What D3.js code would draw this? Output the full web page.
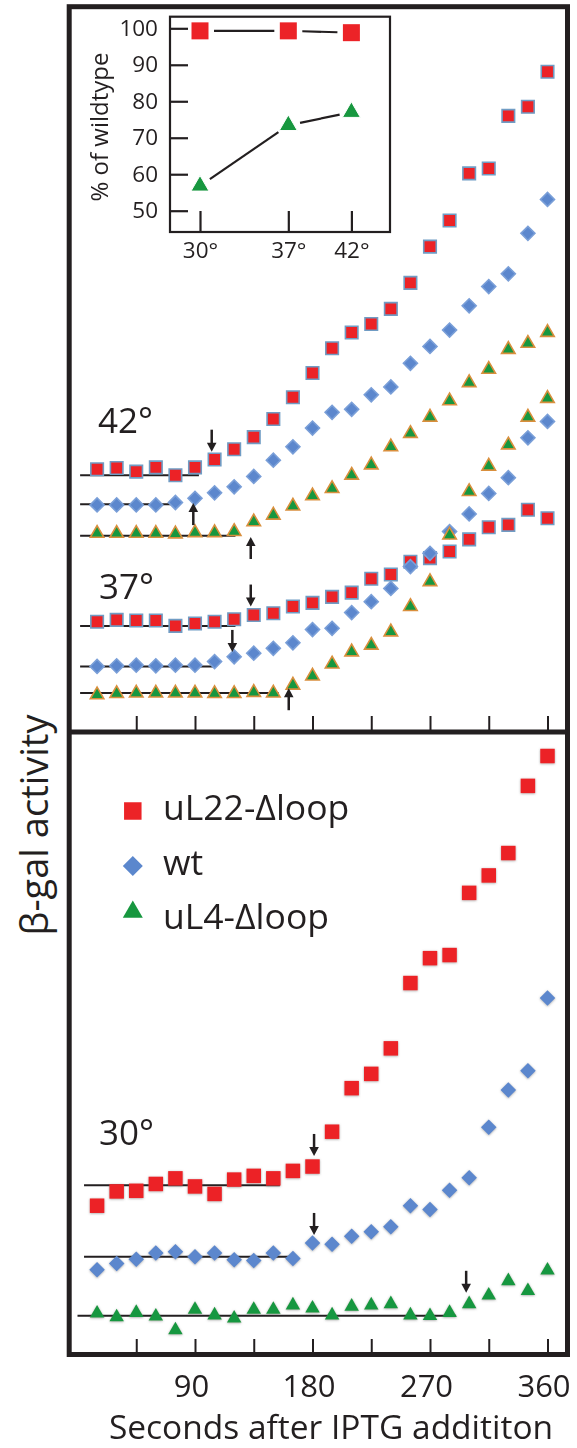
<!DOCTYPE html>
<html>
<head>
<meta charset="utf-8">
<script src="https://cdn.jsdelivr.net/npm/d3@7/dist/d3.min.js"></script>
<style>
  html, body { margin: 0; padding: 0; background: #fff; }
  svg { display: block; }
  text { font-family: "Open Sans", "Noto Sans", sans-serif; fill: #231f20; }
</style>
</head>
<body>
<svg id="chart" width="577" height="1448"></svg>
<script>
// ---------------- DATA ----------------
const times = [15, 30, 45, 60, 75, 90, 105, 120, 135, 150, 165, 180,
               195, 210, 225, 240, 255, 270, 285, 300, 315, 330, 345, 360];
const xTickValues = [45, 90, 135, 180, 225, 270, 315, 360];
const xTickLabels = [90, 180, 270, 360];

// Upper panel (arbitrary units), 42 degrees
const t42_uL22 = [43.6, 43.8, 43.2, 43.9, 42.6, 43.9, 45.2, 46.9, 48.9, 51.9, 55.5, 59.5,
                  63.6, 66.2, 67.6, 70.1, 74.4, 80.4, 84.7, 92.5, 93.3, 102.0, 103.5, 109.3];
const t42_wt   = [37.7, 37.7, 37.7, 37.7, 38.1, 38.8, 39.7, 40.7, 42.4, 45.1, 47.3, 50.4,
                  53.0, 53.5, 55.9, 57.2, 61.1, 63.9, 66.6, 70.6, 73.8, 75.9, 82.6, 88.2];
const t42_uL4  = [33.0, 33.0, 33.0, 33.0, 32.9, 33.1, 33.1, 33.3, 34.9, 36.0, 37.5, 39.2,
                  40.4, 42.6, 44.3, 47.3, 49.5, 52.2, 54.9, 57.9, 60.1, 63.4, 64.4, 66.2];
// Upper panel, 37 degrees
const t37_uL22 = [18.4, 18.7, 18.6, 18.6, 17.7, 18.1, 18.4, 18.8, 19.5, 19.8, 20.9, 21.5,
                  22.5, 23.2, 25.5, 26.2, 28.3, 28.9, 30.0, 32.0, 34.0, 34.4, 36.9, 35.5];
const t37_wt   = [11.0, 11.1, 11.2, 11.1, 11.2, 11.2, 11.8, 12.6, 13.2, 14.0, 14.9, 17.1,
                  17.3, 19.9, 21.7, 23.9, 27.5, 29.7, 33.3, 36.2, 39.6, 42.2, 48.8, 51.5];
const t37_uL4  = [6.3, 6.5, 6.6, 6.6, 6.6, 6.6, 6.5, 6.5, 6.7, 6.6, 7.9, 9.4,
                  11.4, 13.4, 14.5, 16.7, 20.9, 25.0, 32.7, 39.9, 44.1, 47.6, 52.2, 55.3];
// Lower panel, 30 degrees
const t30_uL22 = [24.0, 26.3, 26.4, 27.5, 28.4, 27.1, 25.9, 28.2, 28.8, 28.4, 29.6, 30.3,
                  35.9, 42.9, 45.2, 49.3, 59.8, 63.8, 64.3, 74.3, 77.1, 80.7, 91.5, 96.3];
const t30_wt   = [13.7, 14.7, 15.4, 16.4, 16.6, 15.8, 16.4, 15.3, 15.2, 16.4, 15.5, 18.0,
                  17.8, 19.1, 19.8, 20.6, 24.0, 23.4, 26.5, 28.5, 36.6, 42.6, 45.7, 57.4];
const t30_uL4  = [6.7, 6.1, 6.8, 6.2, 4.0, 7.3, 6.4, 5.9, 7.3, 7.3, 8.0, 7.5,
                  6.4, 7.8, 8.0, 8.2, 6.4, 6.3, 6.8, 8.2, 9.6, 11.9, 10.3, 13.6];

// Baseline fits: [series, start time, end time, level]
const upperBaselines = [["uL22", 2, 93, 42.6], ["wt", 2, 78, 37.8], ["uL4", 2, 121, 32.6],
                        ["uL22", 2, 121, 17.7], ["wt", 2, 105, 11.0], ["uL4", 2, 154, 6.6]];
const lowerBaselines = [["uL22", 5, 155, 27.3], ["wt", 5, 168, 15.8], ["uL4", 0, 290, 6.3]];
// Arrows: [time, tip level, direction]
const upperArrows = [[102.8, 46.5, "down"], [88.7, 38.0, "up"], [132.7, 32.4, "up"],
                     [132.7, 20.9, "down"], [118.6, 13.4, "down"], [161.8, 7.4, "up"]];
const lowerArrows = [[181.2, 32.0, "down"], [181.2, 19.3, "down"], [297.7, 10.0, "down"]];
// Temperature labels: [text, time, level]
const upperTempLabels = [["42°", 15.7, 49.6], ["37°", 16.5, 22.1]];
const lowerTempLabels = [["30°", 16.5, 33.8]];

// Inset
const insetTemps = [30, 37, 42];
const insetUL22 = [99.3, 99.3, 98.8];
const insetUL4  = [56.8, 73.4, 77.0];
const insetYTicks = [50, 60, 70, 80, 90, 100];

const seriesNames = ["uL22-\u0394loop", "wt", "uL4-\u0394loop"];

// ---------------- STYLE ----------------
const INK = "#231f20";
const RED = "#ec2327", BLUE = "#5b87cd", GREEN = "#17973f";

const svg = d3.select("#chart");
const defs = svg.append("defs");
const f1 = defs.append("filter").attr("id", "soft").attr("x", "-50%").attr("y", "-50%").attr("width", "200%").attr("height", "200%");
f1.append("feGaussianBlur").attr("stdDeviation", 0.7);
const f2 = defs.append("filter").attr("id", "shadow").attr("x", "-50%").attr("y", "-50%").attr("width", "200%").attr("height", "200%");
f2.append("feDropShadow").attr("dx", 0).attr("dy", 0.6).attr("stdDeviation", 1.3)
  .attr("flood-color", "#555").attr("flood-opacity", 0.55);

// ---------------- SCALES ----------------
const x = d3.scaleLinear().domain([0, 360]).range([77.5, 547.5]);
const yUp = d3.scaleLinear().domain([0, 120]).range([733, 7]);
const yLo = d3.scaleLinear().domain([0, 100]).range([1355, 733]);

const sym = {
  uL22: s => d3.symbol(d3.symbolSquare, s * s)(),
  wt:   s => d3.symbol(d3.symbolSquare, s * s / 2)(),
  uL4:  s => d3.symbol(d3.symbolTriangle, Math.sqrt(3) / 4 * s * s)()
};
const rot = { uL22: 0, wt: 45, uL4: 0 };
const col = { uL22: RED, wt: BLUE, uL4: GREEN };

function drawSeries(g, vals, key, yScale, size, upper) {
  const pts = times.map((t, i) => ({ t, v: vals[i] }));
  const outline = { uL22: "#6f9cc4", wt: "#7a9fd8", uL4: "#d98f3c" };
  g.append("g")
    .attr("filter", upper ? "url(#soft)" : "url(#shadow)")
    .selectAll("path").data(pts).join("path")
    .attr("d", sym[key](size))
    .attr("transform", d => `translate(${x(d.t)},${yScale(d.v)}) rotate(${rot[key]})`)
    .attr("fill", col[key])
    .attr("stroke", upper ? outline[key] : "none")
    .attr("stroke-width", upper ? 1.6 : 0);
}

function drawBaselines(g, data, yScale) {
  g.selectAll("line.base").data(data).join("line").attr("class", "base")
    .attr("x1", d => x(d[1])).attr("x2", d => x(d[2]))
    .attr("y1", d => yScale(d[3])).attr("y2", d => yScale(d[3]))
    .attr("stroke", INK).attr("stroke-width", 2);
}

function drawArrows(g, data, yScale) {
  const L = 22, hh = 9, hw = 4.8;
  data.forEach(([t, tip, dir]) => {
    const cx = x(t), ty = yScale(tip);
    const s = dir === "down" ? -1 : 1; // tail direction from tip
    g.append("line").attr("x1", cx).attr("x2", cx)
      .attr("y1", ty + s * (hh - 1)).attr("y2", ty + s * L)
      .attr("stroke", INK).attr("stroke-width", 2.5);
    g.append("path")
      .attr("d", `M${cx},${ty} L${cx - hw},${ty + s * hh} L${cx + hw},${ty + s * hh} Z`)
      .attr("fill", INK);
  });
}

function drawTempLabels(g, data, yScale) {
  g.selectAll("text.temp").data(data).join("text").attr("class", "temp")
    .attr("x", d => x(d[1])).attr("y", d => yScale(d[2]))
    .attr("font-size", 35).text(d => d[0]);
}

// ---------------- UPPER PANEL ----------------
const up = svg.append("g");
drawBaselines(up, upperBaselines, yUp);
[[t42_uL22, "uL22"], [t42_wt, "wt"], [t42_uL4, "uL4"],
 [t37_uL22, "uL22"], [t37_wt, "wt"], [t37_uL4, "uL4"]]
  .forEach(([v, k]) => drawSeries(up, v, k, yUp, k === "wt" ? 14 : (k === "uL4" ? 13.5 : 12.5), true));
drawArrows(up, upperArrows, yUp);
drawTempLabels(up, upperTempLabels, yUp);

// upper ticks
const upAxis = svg.append("g").attr("transform", `translate(0,${yUp(0) - 1})`)
  .call(d3.axisBottom(x).tickValues(xTickValues).tickSize(-16).tickFormat(""));
upAxis.select(".domain").remove();
upAxis.selectAll(".tick line").attr("stroke", INK).attr("stroke-width", 2);

// ---------------- LOWER PANEL ----------------
const lo = svg.append("g");
drawBaselines(lo, lowerBaselines, yLo);
[[t30_uL22, "uL22"], [t30_wt, "wt"], [t30_uL4, "uL4"]]
  .forEach(([v, k]) => drawSeries(lo, v, k, yLo, k === "wt" ? 15.5 : (k === "uL4" ? 14.5 : 14.5), false));
drawArrows(lo, lowerArrows, yLo);
drawTempLabels(lo, lowerTempLabels, yLo);

const loAxis = svg.append("g").attr("transform", `translate(0,${yLo(0) - 1})`)
  .call(d3.axisBottom(x).tickValues(xTickValues).tickSize(-15).tickFormat(""));
loAxis.select(".domain").remove();
loAxis.selectAll(".tick line").attr("stroke", INK).attr("stroke-width", 2);

const lblAxis = svg.append("g").attr("transform", `translate(-4,${yLo(0)})`)
  .call(d3.axisBottom(x).tickValues(xTickLabels).tickSize(0).tickPadding(20));
lblAxis.select(".domain").remove();
lblAxis.selectAll("text").attr("font-size", 31).attr("fill", INK)
  .attr("font-family", '"Open Sans", sans-serif');

// legend
const legendRows = [["uL22", 811], ["wt", 866], ["uL4", 912]];
const lg = svg.append("g");
legendRows.forEach(([k, yy], i) => {
  const size = k === "wt" ? 20 : (k === "uL4" ? 20 : 17.5);
  lg.append("path").attr("d", sym[k](size))
    .attr("transform", `translate(132.8,${yy}) rotate(${rot[k]})`)
    .attr("fill", col[k]);
  lg.append("text").attr("x", 163).attr("y", yy + (k === "uL4" ? 16.5 : 8.5))
    .attr("font-size", 35.5).text(seriesNames[i]);
});

// ---------------- FRAME ----------------
svg.append("rect").attr("x", 69.2).attr("y", 6.7).attr("width", 498.3).attr("height", 1347.8)
  .attr("fill", "none").attr("stroke", INK).attr("stroke-width", 5);
svg.append("line").attr("x1", 69.2).attr("x2", 567.5).attr("y1", yUp(0) - 1).attr("y2", yUp(0) - 1)
  .attr("stroke", INK).attr("stroke-width", 5);

// axis titles
svg.append("text").attr("transform", "translate(48,825) rotate(-90)")
  .attr("text-anchor", "middle").attr("font-size", 38).text("\u03b2-gal activity");
svg.append("text").attr("x", 331).attr("y", 1439).attr("text-anchor", "middle")
  .attr("font-size", 33.5).text("Seconds after IPTG addititon");

// ---------------- INSET ----------------
const ix = d3.scaleLinear().domain([30, 42]).range([200, 351.4]);
const iy = d3.scaleLinear().domain([50, 100]).range([210.7, 28.3]);
const inset = svg.append("g");
inset.append("rect").attr("x", 170).attr("y", 16.7).attr("width", 220).attr("height", 215.3)
  .attr("fill", "#fff").attr("stroke", INK).attr("stroke-width", 2.2);

const iyAxis = inset.append("g").attr("transform", "translate(170,0)")
  .call(d3.axisLeft(iy).tickValues(insetYTicks).tickSize(-18).tickPadding(12));
iyAxis.select(".domain").remove();
iyAxis.selectAll(".tick line").attr("stroke", INK).attr("stroke-width", 2.2);
iyAxis.selectAll("text").attr("font-size", 22.5).attr("fill", INK)
  .attr("font-family", '"Open Sans", sans-serif');

const ixAxis = inset.append("g").attr("transform", "translate(0,232)")
  .call(d3.axisBottom(ix).tickValues(insetTemps).tickSize(-21).tickPadding(10).tickFormat(d => d + "°"));
ixAxis.select(".domain").remove();
ixAxis.selectAll(".tick line").attr("stroke", INK).attr("stroke-width", 2.2);
ixAxis.selectAll("text").attr("font-size", 22.5).attr("fill", INK)
  .attr("font-family", '"Open Sans", sans-serif');

inset.append("text").attr("transform", "translate(108,127) rotate(-90)")
  .attr("text-anchor", "middle").attr("font-size", 24).text("% of wildtype");

function insetSegments(vals, gap) {
  const segs = [];
  for (let i = 0; i < vals.length - 1; i++) {
    const x1 = ix(insetTemps[i]), y1 = iy(vals[i]);
    const x2 = ix(insetTemps[i + 1]), y2 = iy(vals[i + 1]);
    const len = Math.hypot(x2 - x1, y2 - y1);
    const ux = (x2 - x1) / len, uy = (y2 - y1) / len;
    segs.push([x1 + ux * gap, y1 + uy * gap, x2 - ux * gap, y2 - uy * gap]);
  }
  return segs;
}
[[insetUL22, 14], [insetUL4, 12]].forEach(([vals, gap]) => {
  inset.selectAll(null).data(insetSegments(vals, gap)).join("line")
    .attr("x1", d => d[0]).attr("y1", d => d[1]).attr("x2", d => d[2]).attr("y2", d => d[3])
    .attr("stroke", INK).attr("stroke-width", 2.2);
});
inset.selectAll(null).data(insetTemps.map((t, i) => ({ t, v: insetUL22[i] }))).join("path")
  .attr("d", sym.uL22(17)).attr("fill", RED)
  .attr("transform", d => `translate(${ix(d.t)},${iy(d.v)})`);
inset.selectAll(null).data(insetTemps.map((t, i) => ({ t, v: insetUL4[i] }))).join("path")
  .attr("d", sym.uL4(18)).attr("fill", GREEN).attr("stroke", "#fff").attr("stroke-width", 1)
  .attr("transform", d => `translate(${ix(d.t)},${iy(d.v)})`);
</script>
</body>
</html>
